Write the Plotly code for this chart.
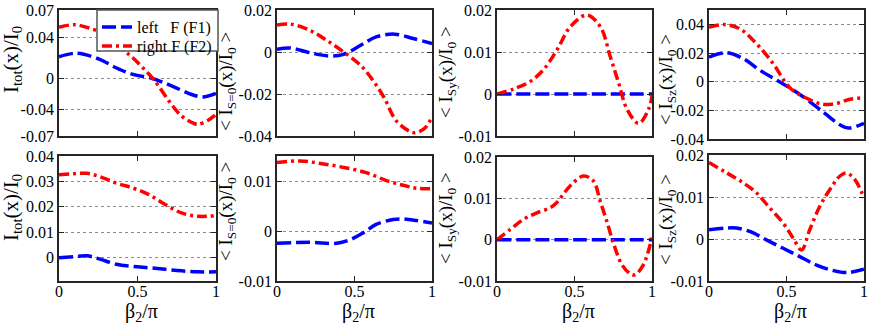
import plotly.graph_objects as go

# ---------------- data ----------------
p1_left_x  = [0, 0.11, 0.256, 0.36, 0.465, 0.59, 0.717, 0.84, 0.916, 1.0]
p1_left_y  = [0.018, 0.022, 0.0154, 0.0061, -0.0013, -0.0058, -0.0143, -0.0236, -0.0266, -0.0225]
p1_right_x = [0, 0.1, 0.21, 0.3, 0.42, 0.47, 0.53, 0.61, 0.70, 0.78, 0.864, 0.885, 0.95, 1.0]
p1_right_y = [0.0507, 0.0537, 0.0488, 0.043, 0.024, 0.017, 0.0065, -0.0087, -0.031, -0.0477, -0.0563, -0.057, -0.0525, -0.046]

p2_left_x  = [0, 0.086, 0.21, 0.34, 0.43, 0.54, 0.64, 0.76, 0.88, 1.0]
p2_left_y  = [0.0013, 0.0019, -0.0003, -0.0019, -0.0011, 0.0032, 0.0072, 0.0085, 0.0064, 0.004]
p2_right_x = [0, 0.086, 0.21, 0.32, 0.43, 0.54, 0.62, 0.69, 0.77, 0.86, 0.89, 0.95, 1.0]
p2_right_y = [0.0128, 0.0133, 0.0104, 0.0056, 0.0, -0.0064, -0.0136, -0.0216, -0.0328, -0.0379, -0.0384, -0.0365, -0.031]

p3_left_x  = [0, 0.5, 1.0]
p3_left_y  = [0, 0, 0]
p3_right_x = [0, 0.108, 0.215, 0.30, 0.387, 0.473, 0.58, 0.667, 0.73, 0.785, 0.84, 0.914, 0.977, 1.0]
p3_right_y = [0, 0.0012, 0.003, 0.0058, 0.0105, 0.016, 0.0188, 0.016, 0.009, 0.0026, -0.0037, -0.007, -0.0037, -0.0005]

p4_left_x  = [0, 0.112, 0.22, 0.328, 0.435, 0.543, 0.65, 0.76, 0.845, 0.9, 1.0]
p4_left_y  = [0.0172, 0.0202, 0.0161, 0.008, 0.0011, -0.0058, -0.0139, -0.0232, -0.0301, -0.0324, -0.029]
p4_right_x = [0, 0.1, 0.2, 0.306, 0.414, 0.52, 0.63, 0.737, 0.823, 0.91, 1.0]
p4_right_y = [0.038, 0.0398, 0.0368, 0.0265, 0.0126, -0.004, -0.0116, -0.0158, -0.0151, -0.0123, -0.0112]

p5_x       = [0, 0.094, 0.177, 0.26, 0.365, 0.47, 0.573, 0.677, 0.78, 0.885, 1.0]
p5_left_y  = [0, 0.0004, 0.0007, -0.0006, -0.0026, -0.0035, -0.004, -0.0046, -0.0052, -0.0056, -0.0056]
p5_right_y = [0.0326, 0.033, 0.0332, 0.0319, 0.0293, 0.0274, 0.0248, 0.0209, 0.0176, 0.0163, 0.0165]

p6_left_x  = [0, 0.215, 0.386, 0.47, 0.56, 0.64, 0.75, 0.815, 0.9, 1.0]
p6_left_y  = [-0.0024, -0.0022, -0.0024, -0.0017, -0.0002, 0.0014, 0.0024, 0.0025, 0.0022, 0.0017]
p6_right_x = [0, 0.15, 0.28, 0.43, 0.58, 0.71, 0.815, 0.9, 1.0]
p6_right_y = [0.0139, 0.0142, 0.0137, 0.0129, 0.0118, 0.0102, 0.0093, 0.0087, 0.0086]

p7_left_x  = [0, 0.5, 1.0]
p7_left_y  = [0, 0, 0]
p7_right_x = [0, 0.086, 0.17, 0.257, 0.343, 0.386, 0.472, 0.558, 0.622, 0.665, 0.708, 0.75, 0.805, 0.858, 0.89, 0.944, 1.0]
p7_right_y = [0, 0.0025, 0.0049, 0.0065, 0.0077, 0.009, 0.013, 0.0154, 0.0142, 0.0094, 0.0045, -0.0007, -0.006, -0.0082, -0.0085, -0.0061, 0.0005]

p8_left_x  = [0, 0.112, 0.177, 0.263, 0.37, 0.478, 0.586, 0.694, 0.80, 0.888, 1.0]
p8_left_y  = [0.0022, 0.0026, 0.0026, 0.0018, -0.0002, -0.0022, -0.0042, -0.0062, -0.0075, -0.008, -0.0072]
p8_right_x = [0, 0.112, 0.22, 0.306, 0.392, 0.478, 0.543, 0.597, 0.65, 0.715, 0.78, 0.845, 0.888, 0.94, 1.0]
p8_right_y = [0.0182, 0.0158, 0.0134, 0.011, 0.0074, 0.0038, 0.0002, -0.0026, 0.0022, 0.0078, 0.0118, 0.015, 0.0157, 0.0142, 0.0098]

# axis ranges and tick labels
y_ranges = [[-0.07, 0.07], [-0.04, 0.02], [-0.01, 0.02], [-0.04, 0.05],
            [-0.0092, 0.04], [-0.01, 0.0152], [-0.01, 0.02], [-0.01, 0.02]]
y_tickvals = [[-0.07, -0.04, -0.0062, 0.04, 0.07],
              [-0.04, -0.02, 0, 0.02],
              [-0.01, 0, 0.01, 0.02],
              [-0.04, -0.02, 0, 0.02, 0.04],
              [0, 0.01, 0.02, 0.03, 0.04],
              [-0.01, 0, 0.01],
              [-0.01, 0, 0.01, 0.02],
              [-0.01, 0, 0.01, 0.02]]
y_ticktext = [["-0.07", "-0.04", "0", "0.04", "0.07"],
              ["-0.04", "-0.02", "0", "0.02"],
              ["-0.01", "0", "0.01", "0.02"],
              ["-0.04", "-0.02", "0", "0.02", "0.04"],
              ["0", "0.01", "0.02", "0.03", "0.04"],
              ["-0.01", "0", "0.01"],
              ["-0.01", "0", "0.01", "0.02"],
              ["-0.01", "0", "0.01", "0.02"]]
x_tickvals = [0, 0.5, 1]
x_ticktext = ["0", "0.5", "1"]

y_titles = ["I<sub>tot</sub>(x)/I<sub>0</sub>",
            "&lt; I<sub>S=0</sub>(x)/I<sub>0</sub> &gt;",
            "&lt; I<sub>Sy</sub>(x)/I<sub>0</sub> &gt;",
            "&lt; I<sub>Sz</sub>(x)/I<sub>0</sub> &gt;",
            "I<sub>tot</sub>(x)/I<sub>0</sub>",
            "&lt; I<sub>S=0</sub>(x)/I<sub>0</sub> &gt;",
            "&lt; I<sub>Sy</sub>(x)/I<sub>0</sub> &gt;",
            "&lt; I<sub>Sz</sub>(x)/I<sub>0</sub> &gt;"]
x_title = "β<sub>2</sub>/π"
legend_names = ["left\u00a0\u00a0\u00a0F (F1)", "right F (F2)"]

series = [
    (p1_left_x, p1_left_y, p1_right_x, p1_right_y),
    (p2_left_x, p2_left_y, p2_right_x, p2_right_y),
    (p3_left_x, p3_left_y, p3_right_x, p3_right_y),
    (p4_left_x, p4_left_y, p4_right_x, p4_right_y),
    (p5_x, p5_left_y, p5_x, p5_right_y),
    (p6_left_x, p6_left_y, p6_right_x, p6_right_y),
    (p7_left_x, p7_left_y, p7_right_x, p7_right_y),
    (p8_left_x, p8_left_y, p8_right_x, p8_right_y),
]

# ---------------- layout geometry (pixels) ----------------
W, H = 872, 327
col_px = [(59, 216), (277, 432), (497, 652), (709, 864)]
row_px = [[(10, 136), (10, 136), (10, 136), (10, 139)],
          [(156, 281), (156, 281), (157, 281), (155, 281)]]
ytitle_pos = [(12, 60), (227, 82), (447, 72), (667, 80),
              (12, 208), (227, 212), (447, 218), (667, 220)]
ytitle_size = [21, 19, 19, 19, 21, 19, 19, 19]
xtitle_py = 312
legend_box = (97, 10, 218, 51)
legend_rows_top = [10, 29]

FONT = "Liberation Serif, Times New Roman, Times, serif"
BLUE = "rgb(0,0,255)"
RED = "rgb(255,0,0)"
AXC = "#262626"

fig = go.Figure()
layout = dict(width=W, height=H, margin=dict(l=0, r=0, t=0, b=0, autoexpand=False),
              paper_bgcolor="white", plot_bgcolor="white",
              font=dict(family=FONT, size=16, color="black"),
              showlegend=True)
annotations = []

for i in range(8):
    r, c = divmod(i, 4)
    n = i + 1
    xa = "x" if n == 1 else f"x{n}"
    ya = "y" if n == 1 else f"y{n}"
    lx, ly, rx, ry = series[i]
    fig.add_trace(go.Scatter(x=lx, y=ly, mode="lines", xaxis=xa, yaxis=ya,
                             line=dict(color=BLUE, width=3.5, dash="14px,5px", shape="spline"),
                             name=legend_names[0], showlegend=(i == 0), legend="legend"))
    fig.add_trace(go.Scatter(x=rx, y=ry, mode="lines", xaxis=xa, yaxis=ya,
                             line=dict(color=RED, width=3.5, dash="10px,4px,3px,4px", shape="spline"),
                             name=legend_names[1], showlegend=(i == 0), legend="legend2"))
    x0, x1 = col_px[c]
    y0, y1 = row_px[r][c]
    xkey = "xaxis" if n == 1 else f"xaxis{n}"
    ykey = "yaxis" if n == 1 else f"yaxis{n}"
    layout[xkey] = dict(domain=[x0 / W, x1 / W], anchor=ya, range=[0, 1],
                        tickmode="array", tickvals=x_tickvals, ticktext=x_ticktext,
                        showticklabels=(r == 1), ticks="inside", ticklen=5,
                        tickwidth=1, tickcolor=AXC, mirror="ticks", showline=True,
                        linecolor=AXC, linewidth=1.8, showgrid=False, zeroline=False,
                        ticklabelstandoff=-5,
                        tickfont=dict(family=FONT, size=16, color="black"))
    layout[ykey] = dict(domain=[1 - y1 / H, 1 - y0 / H], anchor=xa, range=y_ranges[i],
                        tickmode="array", tickvals=y_tickvals[i], ticktext=y_ticktext[i],
                        ticks="inside", ticklen=5, tickwidth=1, tickcolor=AXC,
                        mirror="ticks", showline=True, linecolor=AXC, linewidth=1.8,
                        showgrid=True, gridcolor="#8c8c8c", gridwidth=1, griddash="dot",
                        zeroline=False,
                        tickfont=dict(family=FONT, size=16, color="black"))
    tx, ty = ytitle_pos[i]
    annotations.append(dict(text=y_titles[i], xref="paper", yref="paper",
                            x=tx / W, y=1 - ty / H, xanchor="center", yanchor="middle",
                            textangle=-90, showarrow=False,
                            font=dict(family=FONT, size=ytitle_size[i], color="black")))
    if r == 1:
        annotations.append(dict(text=x_title, xref="paper", yref="paper",
                                x=((x0 + x1) / 2 + 4) / W, y=1 - xtitle_py / H,
                                xanchor="center", yanchor="middle", showarrow=False,
                                font=dict(family=FONT, size=20, color="black")))

layout["annotations"] = annotations
bx0, by0, bx1, by1 = legend_box
layout["shapes"] = [dict(type="rect", xref="paper", yref="paper", layer="above",
                         x0=bx0 / W, x1=bx1 / W, y0=1 - by1 / H, y1=1 - by0 / H,
                         fillcolor="white", line=dict(color="#555555", width=1.5))]
for key, top in zip(["legend", "legend2"], legend_rows_top):
    layout[key] = dict(x=bx0 / W, y=1 - top / H, xanchor="left", yanchor="top",
                       bgcolor="rgba(0,0,0,0)", borderwidth=0,
                       font=dict(family=FONT, size=16, color="black"),
                       tracegroupgap=0, itemwidth=30)
fig.update_layout(**layout)
fig.write_html("out.html", config={"displayModeBar": False},
               post_script="document.body.style.margin='0px';document.body.style.padding='0px';")
